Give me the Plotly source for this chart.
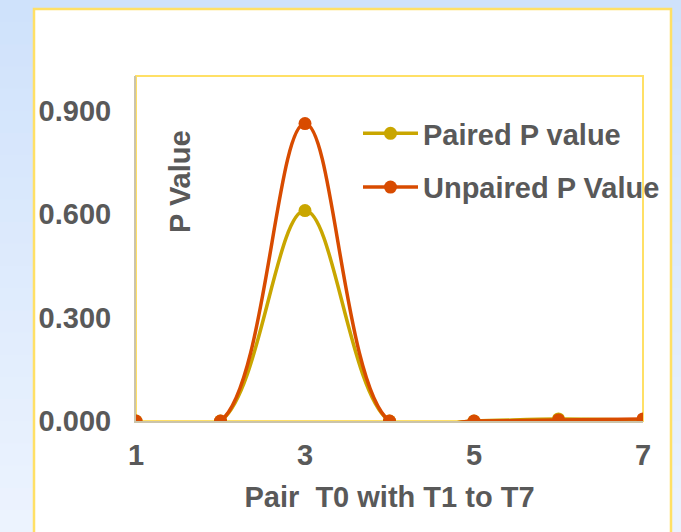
import plotly.graph_objects as go

# ---- data ----
pairs = [1, 2, 3, 4, 5, 6, 7]
paired_p = [0.000, 0.000, 0.610, 0.000, 0.000, 0.006, 0.002]
unpaired_p = [0.000, 0.000, 0.862, 0.000, 0.000, 0.003, 0.006]
y_ticks = [0.0, 0.3, 0.6, 0.9]
x_ticks = [1, 3, 5, 7]

W, H = 681, 532
L, R, T, B = 136, 643, 76, 421   # plot area in px

def px(x):
    return (x - L) / (R - L)

def py(y):
    return (B - y) / (B - T)

GOLD = "#c9a600"
RED = "#d84b00"
TXT = "#595959"
FONT = "Liberation Sans"
FS = 29
SMOOTH = 1.0

fig = go.Figure()
fig.add_trace(go.Scatter(
    x=pairs, y=paired_p, name="Paired P value", mode="lines+markers",
    line=dict(color=GOLD, width=3.5, shape="spline", smoothing=SMOOTH),
    marker=dict(color=GOLD, size=13), legendgroup="a", cliponaxis=True))
fig.add_trace(go.Scatter(
    x=pairs, y=unpaired_p, name="Unpaired P Value", mode="lines+markers",
    line=dict(color=RED, width=3.5, shape="spline", smoothing=SMOOTH),
    marker=dict(color=RED, size=13), legendgroup="b", cliponaxis=True))

shapes = []
# background gradient bands
n = 24
c0 = (0xcf, 0xe2, 0xfb)
c1 = (0xec, 0xf3, 0xfe)
for i in range(n):
    t = i / (n - 1)
    c = tuple(round(c0[k] + (c1[k] - c0[k]) * t) for k in range(3))
    y0 = H * i / n
    y1 = H * (i + 1) / n + 1
    shapes.append(dict(type="rect", xref="paper", yref="paper", layer="below",
                       x0=px(-2), x1=px(W + 2), y0=py(y1), y1=py(y0 - (2 if i == 0 else 0)),
                       line=dict(width=0), fillcolor="rgb(%d,%d,%d)" % c))
# white panel
shapes.append(dict(type="rect", xref="paper", yref="paper", layer="below",
                   x0=px(34), x1=px(671), y0=py(H + 10), y1=py(9),
                   line=dict(color="#ffe066", width=2.5), fillcolor="white"))
# plot area border
shapes.append(dict(type="rect", xref="paper", yref="paper", layer="below",
                   x0=0, x1=1, y0=0, y1=1,
                   line=dict(color="#ffe066", width=2), fillcolor="white"))

tf = dict(family=FONT, size=FS, color=TXT, weight="bold")

fig.update_layout(
    width=W, height=H,
    margin=dict(l=L, r=W - R, t=T, b=H - B),
    paper_bgcolor="#d6e7fc", plot_bgcolor="rgba(0,0,0,0)",
    shapes=shapes,
    font=tf,
    showlegend=True,
    legend=dict(x=px(358), y=py(108), xanchor="left", yanchor="top",
                bgcolor="rgba(0,0,0,0)", traceorder="grouped", tracegroupgap=13,
                font=tf, itemwidth=55),
    xaxis=dict(range=[1, 7], tickvals=x_ticks, showgrid=False, zeroline=False,
               showline=True, linecolor="#cbc4aa", linewidth=2,
               ticks="", ticklabelstandoff=7, tickfont=tf,
               title=dict(text="Pair&nbsp;&nbsp;T0 with T1 to T7", standoff=17,
                          font=tf)),
    yaxis=dict(range=[0, 1.0], tickvals=y_ticks, tickformat=".3f",
               showgrid=False, zeroline=False,
               showline=True, linecolor="#cbc4aa", linewidth=2,
               ticks="", ticklabelstandoff=17, tickfont=tf),
    annotations=[dict(text="P Value", xref="paper", yref="paper",
                      x=px(180), y=py(182), xanchor="center", yanchor="middle",
                      textangle=-90, showarrow=False, font=tf)],
)

fig.write_html("out.html", config={"displayModeBar": False},
               post_script="document.body.style.margin='0';document.body.style.overflow='hidden';")
